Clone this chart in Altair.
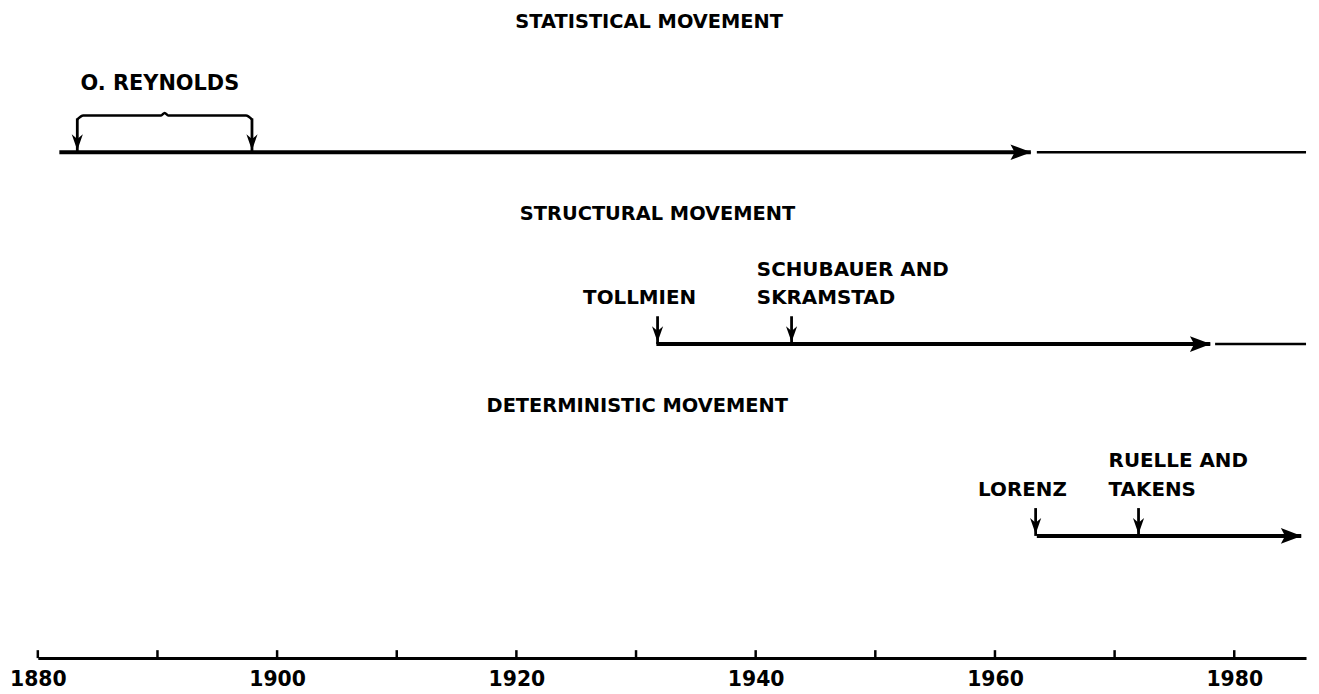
import altair as alt
import pandas as pd

FONT = "DejaVu Sans"
WIDTH, HEIGHT = 1276, 652
X_DOMAIN = [1880, 1986]
Y_DOMAIN = [0.363, 3.741]
PX_PER_LEVEL = HEIGHT / (Y_DOMAIN[1] - Y_DOMAIN[0])

# --- movements (one horizontal timeline each) ---
movement_titles = ["STATISTICAL MOVEMENT", "STRUCTURAL MOVEMENT", "DETERMINISTIC MOVEMENT"]
movement_levels = [3, 2, 1]
title_years = [1931.1, 1931.8, 1930.1]
line_start = [1881.8, 1931.7, 1963.5]
line_end = [1963.0, 1978.0, 1985.6]

# thin continuation after the arrow
cont_levels = [3, 2]
cont_start = [1963.5, 1978.4]
cont_end = [1986.0, 1986.0]

# --- events marked by down arrows ---
arrow_years = [1883.3, 1897.9, 1931.8, 1943.0, 1963.4, 1972.0]
arrow_levels = [3, 3, 2, 2, 1, 1]
arrow_braced = [1, 1, 0, 0, 0, 0]

# --- event labels ---
label_lines = ["O. REYNOLDS", "TOLLMIEN", "SCHUBAUER AND", "SKRAMSTAD", "LORENZ", "RUELLE AND", "TAKENS"]
label_years = [1890.2, 1930.3, 1940.1, 1940.1, 1962.3, 1969.5, 1969.5]
label_levels = [3, 2, 2, 2, 1, 1, 1]
label_tier = ["brace", "lower", "upper", "lower", "lower", "upper", "lower"]
label_align = ["center", "center", "left", "left", "center", "left", "left"]

# --- brace over Reynolds ---
brace_years = [1883.3, 1883.8, 1890.3, 1890.6, 1890.9, 1897.4, 1897.9]
brace_dy = [-33, -37, -37, -39.5, -37, -37, -33]
brace_level = 3

# --- time axis ---
tick_years = [1880, 1890, 1900, 1910, 1920, 1930, 1940, 1950, 1960, 1970, 1980]
tick_labels = [1880, 1900, 1920, 1940, 1960, 1980]

movements = pd.DataFrame({"title": movement_titles, "level": movement_levels,
                          "tx": title_years, "start": line_start, "end": line_end})
conts = pd.DataFrame({"level": cont_levels, "start": cont_start, "end": cont_end})
arrows = pd.DataFrame({"year": arrow_years, "level": arrow_levels, "braced": arrow_braced})
labels = pd.DataFrame({"text": label_lines, "year": label_years, "level": label_levels,
                       "tier": label_tier, "align": label_align})
brace = pd.DataFrame({"year": brace_years,
                      "y": [brace_level - d / PX_PER_LEVEL for d in brace_dy],
                      "order": list(range(len(brace_years)))})
ticks = pd.DataFrame({"year": tick_years, "base": [Y_DOMAIN[0]] * len(tick_years)})

xs = alt.Scale(domain=X_DOMAIN, nice=False, zero=False)
ys = alt.Scale(domain=Y_DOMAIN, nice=False, zero=False)

X_AXIS = alt.Axis(values=tick_labels, format="d", title=None, ticks=False, grid=False,
                  domainColor="black", domainWidth=3, labelFont=FONT,
                  labelFontSize=20.5, labelFontWeight="bold", labelColor="black",
                  labelPadding=12, labelFlush=False, labelOverlap=False)

RIGHT_ARROW = "M1,0 L-1,-0.75 L-0.6,0 L-1,0.75 Z"
DOWN_ARROW = "M0,1 L-0.7,-1 L0,-0.4 L0.7,-1 Z"


def bx(f):
    return alt.X(f, type="quantitative", scale=xs, axis=X_AXIS)


def by(f):
    return alt.Y(f, type="quantitative", scale=ys, axis=None)


main_lines = alt.Chart(movements).mark_rule(color="black", strokeWidth=4).encode(
    x=bx("start"), x2=alt.X2("end"), y=by("level"))

heads = alt.Chart(movements).mark_point(
    shape=RIGHT_ARROW, size=441, filled=True, opacity=1, color="black", xOffset=-10
).encode(x=bx("end"), y=by("level"))

cont_lines = alt.Chart(conts).mark_rule(color="black", strokeWidth=2.5).encode(
    x=bx("start"), x2=alt.X2("end"), y=by("level"))

titles = alt.Chart(movements).mark_text(
    font=FONT, fontSize=19.5, fontWeight="bold", color="black", align="center",
    baseline="middle", dy=-131
).encode(x=bx("tx"), y=by("level"), text="title:N")

shafts_plain = alt.Chart(arrows).transform_filter("datum.braced == 0").mark_rule(
    color="black", strokeWidth=2.8, y2Offset=-28
).encode(x=bx("year"), y=by("level"), y2=alt.Y2("level"))

shafts_brace = alt.Chart(arrows).transform_filter("datum.braced == 1").mark_rule(
    color="black", strokeWidth=2.8, y2Offset=-34
).encode(x=bx("year"), y=by("level"), y2=alt.Y2("level"))

down_heads = alt.Chart(arrows).mark_point(
    shape=DOWN_ARROW, size=256, filled=True, opacity=1, color="black", yOffset=-10
).encode(x=bx("year"), y=by("level"))

brace_line = alt.Chart(brace).mark_line(
    color="black", strokeWidth=2.5, interpolate="monotone"
).encode(x=bx("year"), y=by("y"), order="order:Q")

tier_style = {"brace": (-69, 21), "lower": (-46, 20), "upper": (-75, 20)}
label_layers = []
for tier, (dy, fs) in tier_style.items():
    for al in ["center", "left"]:
        label_layers.append(
            alt.Chart(labels).transform_filter(
                f"datum.tier == '{tier}' && datum.align == '{al}'"
            ).mark_text(font=FONT, fontSize=fs, fontWeight="bold", color="black",
                        align=al, baseline="middle", dy=dy)
            .encode(x=bx("year"), y=by("level"), text="text:N")
        )

axis_ticks = alt.Chart(ticks).mark_rule(color="black", strokeWidth=2.5, y2Offset=-8).encode(
    x=bx("year"),
    y=by("base"),
    y2=alt.Y2("base"),
)

chart = alt.layer(
    axis_ticks, main_lines, cont_lines, heads, titles, shafts_plain, shafts_brace,
    down_heads, brace_line, *label_layers
).properties(
    width=WIDTH, height=HEIGHT, autosize="none",
    padding={"left": 30, "top": 0, "right": 5, "bottom": 34}
).configure_view(stroke=None)

chart.save("out.html", embed_options={"renderer": "svg", "actions": False})
